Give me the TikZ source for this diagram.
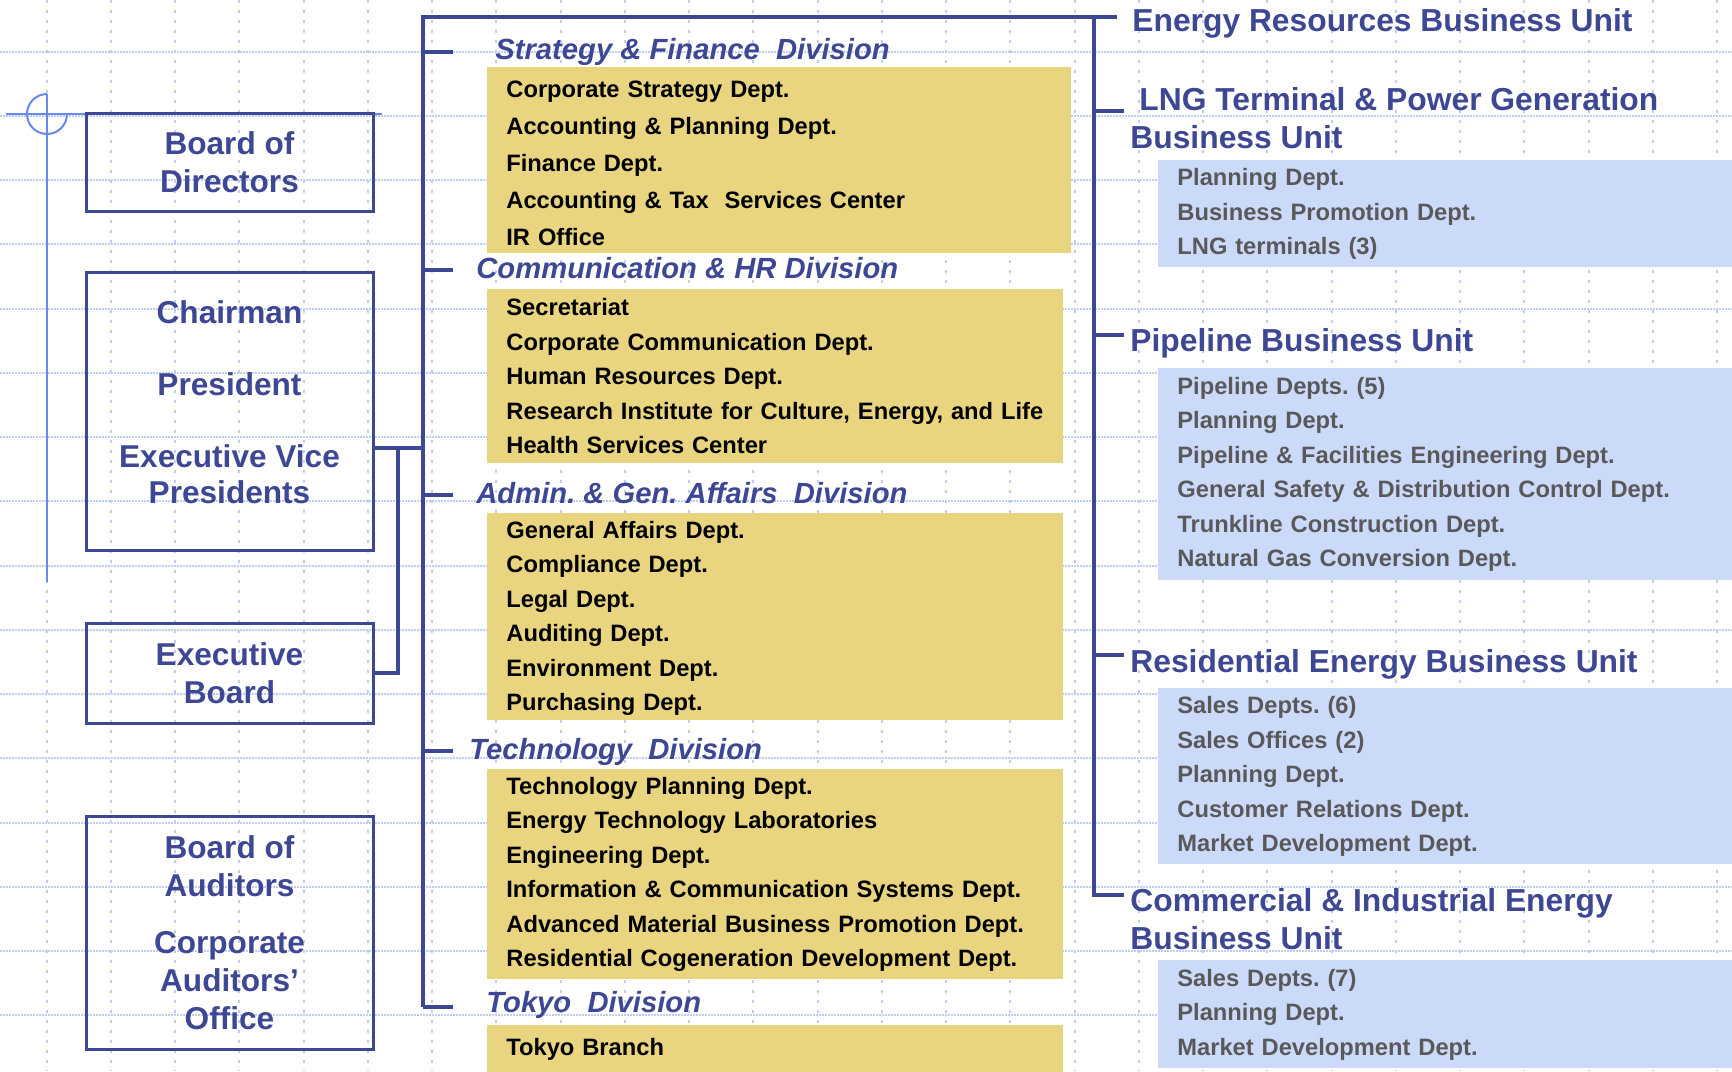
\documentclass[tikz,border=0pt]{standalone}
\usepackage{fontspec}
\setmainfont{Liberation Sans}
\frenchspacing
\definecolor{navy}{RGB}{62,71,148}
\definecolor{deco}{RGB}{104,138,238}
\definecolor{gridblue}{RGB}{190,205,245}
\definecolor{sand}{RGB}{233,213,128}
\definecolor{sky}{RGB}{204,218,250}
\definecolor{slate}{RGB}{89,89,89}

\begin{document}
\begin{tikzpicture}[x=0.5pt,y=-0.5pt,
    link/.style={navy,line width=1.6pt},
    who/.style={align=center,text=navy,font=\fontsize{15.8}{19}\selectfont\bfseries},
    board/.style={who,draw=navy,line width=1.5pt,minimum width=143.5pt},
    divtitle/.style={anchor=base west,inner sep=0pt,text=navy,font=\fontsize{14.6}{17}\selectfont\bfseries\itshape},
    unit/.style={anchor=base west,inner sep=0pt,align=left,text=navy,font=\fontsize{15.9}{19}\selectfont\bfseries},
    dept/.style={anchor=north west,fill=sand,inner xsep=9.5pt,inner ysep=0pt,text width=269pt,align=left,font=\fontsize{11.85}{17.25}\selectfont\bfseries},
    sect/.style={dept,fill=sky,text=slate,text width=272pt}]
    \useasboundingbox (0,0) rectangle (1732,1071);
    \clip (0,0) rectangle (1732,1071);
    \foreach \i in {0,...,26}
        \draw[gridblue,line width=1pt,dash pattern=on 1.5pt off 3.5pt] ({46.7+64.25*\i},0) -- ++(0,1071);
    \foreach \i in {0,...,15}
        \draw[gridblue,line width=1pt,dash pattern=on 0.8pt off 0.7pt] (0,{51.5+64.25*\i}) -- ++(1732,0);
    \draw[deco,line width=1pt] (47,94) -- (47,582);
    \draw[deco,line width=1pt] (6,114) -- (382,114);
    \draw[deco,line width=1pt] (47,94) arc[start angle=90,end angle=360,radius=10pt];

    \node[board,minimum height=49pt] (bd) at (229.5,162) {Board of\\Directors};
    \node[board,minimum height=139pt] (ch) at (229.5,411) {};
    \node[who,font=\fontsize{15.8}{18}\selectfont\bfseries] (cht) at (229.5,402) {Chairman\\[18pt]President\\[18pt]Executive Vice\\Presidents};
    \node[board,minimum height=50pt] (eb) at (229.5,673) {Executive\\Board};
    \node[board,minimum height=116.5pt] (ba) at (229.5,932.5) {Board of\\Auditors\\[9.5pt]Corporate\\Auditors'\\Office};

    \coordinate (j) at (423,448);
    \coordinate (k) at (398,448);
    \coordinate (t0) at (423,17);
    \coordinate (t1) at (423,52);
    \coordinate (t2) at (423,270);
    \coordinate (t3) at (423,495);
    \coordinate (t4) at (423,751);
    \coordinate (t5) at (423,1007);
    \coordinate (r0) at (1094,17);
    \coordinate (r1) at (1094,111);
    \coordinate (r2) at (1094,335);
    \coordinate (r3) at (1094,655);
    \coordinate (r4) at (1094,895);
    \draw[link] (ch.east |- j) -- (j);
    \draw[link] (eb.east) -| (k);
    \draw[link] (t5) -- ++(30,0);
    \draw[link] (t5) -- (t0) -- (r0) -- ++(23,0);
    \draw[link] (r0) -- (r4) -- ++(30,0);
    \foreach \n in {1,...,4}
        \draw[link] (t\n) -- ++(30,0);
    \foreach \n in {1,2,3}
        \draw[link] (r\n) -- ++(30,0);

    \node[divtitle] (sf) at (495,59.5) {Strategy \& Finance~ Division};
    \node[dept,text width=273pt,minimum height=93pt,font=\fontsize{11.85}{18.5}\selectfont\bfseries] (sfd) at (487,67) {\rule{0pt}{11pt}Corporate Strategy Dept.\\Accounting \& Planning Dept.\\Finance Dept.\\Accounting \& Tax~ Services Center\\IR Office};
    \node[divtitle] (hr) at (476,278) {Communication \& HR Division};
    \node[dept,minimum height=87pt] (hrd) at (487,289) {Secretariat\\Corporate Communication Dept.\\Human Resources Dept.\\\mbox{Research Institute for Culture, Energy, and Life}\\Health Services Center};
    \node[divtitle] (ga) at (476,503.5) {Admin. \& Gen. Affairs~ Division};
    \node[dept,minimum height=103.5pt] (gad) at (487,513) {\rule{0pt}{10pt}General Affairs Dept.\\Compliance Dept.\\Legal Dept.\\Auditing Dept.\\Environment Dept.\\Purchasing Dept.};
    \node[divtitle] (te) at (469,759.5) {Technology~ Division};
    \node[dept,minimum height=105pt] (ted) at (487,769) {Technology Planning Dept.\\Energy Technology Laboratories\\Engineering Dept.\\Information \& Communication Systems Dept.\\Advanced Material Business Promotion Dept.\\Residential Cogeneration Development Dept.};
    \node[divtitle] (tk) at (486,1012) {Tokyo~ Division};
    \node[dept,minimum height=24pt] (tkd) at (487,1025) {Tokyo Branch};

    \node[unit] (er) at (1132,31) {Energy Resources Business Unit};
    \node[unit,anchor=west] (lng) at (1130,117.8) {\hspace*{4.5pt}LNG Terminal \& Power Generation\\Business Unit};
    \node[sect,minimum height=53.5pt] (lngd) at (1158,160) {Planning Dept.\\Business Promotion Dept.\\LNG terminals (3)};
    \node[unit] (pl) at (1130,351) {Pipeline Business Unit};
    \node[sect,minimum height=106pt] (pld) at (1158,368) {Pipeline Depts. (5)\\Planning Dept.\\Pipeline \& Facilities Engineering Dept.\\General Safety \& Distribution Control Dept.\\Trunkline Construction Dept.\\Natural Gas Conversion Dept.};
    \node[unit] (re) at (1130,672) {Residential Energy Business Unit};
    \node[sect,minimum height=88pt] (red) at (1158,688) {Sales Depts. (6)\\Sales Offices (2)\\Planning Dept.\\Customer Relations Dept.\\Market Development Dept.};
    \node[unit,anchor=west] (ci) at (1130,919.4) {Commercial \& Industrial Energy\\Business Unit};
    \node[sect,minimum height=54pt] (cid) at (1158,960) {Sales Depts. (7)\\Planning Dept.\\Market Development Dept.};
\end{tikzpicture}
\end{document}
